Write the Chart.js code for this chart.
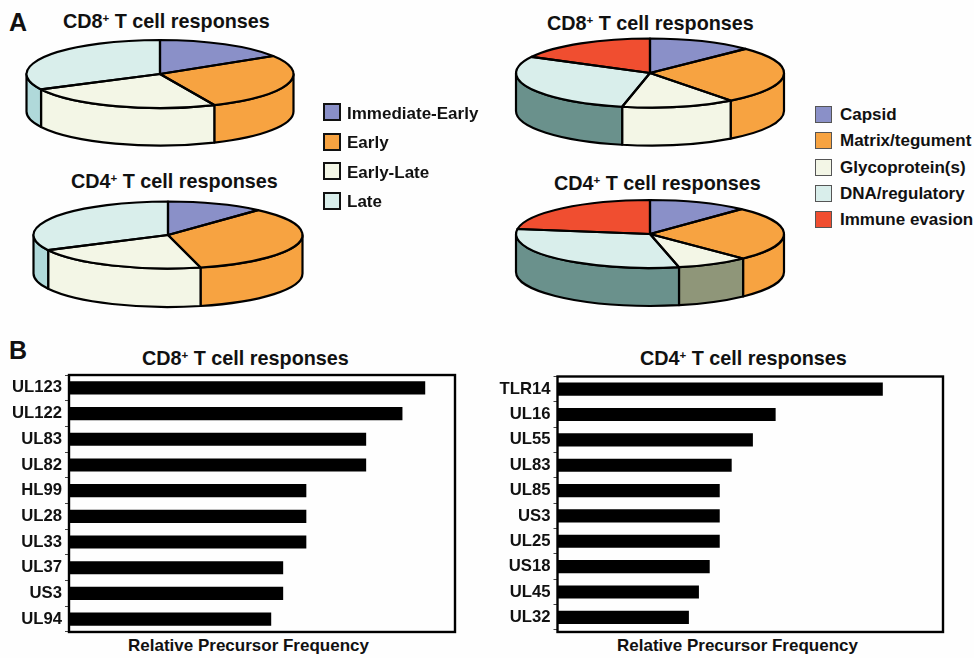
<!DOCTYPE html>
<html>
<head>
<meta charset="utf-8">
<script src="https://cdn.jsdelivr.net/npm/chart.js@4"></script>
<style>
    html, body { margin: 0; padding: 0; background: #fefefe; }
    body { position: relative; width: 974px; height: 658px; overflow: hidden; font-family: "Liberation Sans", Arial, sans-serif; font-weight: bold; color: #111; }
    canvas { position: absolute; }
    .txt { position: absolute; white-space: nowrap; line-height: 1; }
    .ttl { font-size: 19.8px; }
    .ttl sup { font-size: 11.5px; line-height: 0; vertical-align: 6px; }
    .leg { font-size: 17px; }
    .xlab { font-size: 17px; }
    .swatch { position: absolute; box-sizing: border-box; }
</style>
</head>
<body>
<div class="txt" style="left:9px;top:10px;font-size:25px">A</div>
<div class="txt" style="left:9px;top:338px;font-size:25px">B</div>

<div class="txt ttl" style="left:63px;top:12px">CD8<sup>+</sup> T cell responses</div>
<div class="txt ttl" style="left:71px;top:172px">CD4<sup>+</sup> T cell responses</div>
<div class="txt ttl" style="left:547px;top:14px">CD8<sup>+</sup> T cell responses</div>
<div class="txt ttl" style="left:554px;top:174px">CD4<sup>+</sup> T cell responses</div>
<div class="txt ttl" style="left:142px;top:349px">CD8<sup>+</sup> T cell responses</div>
<div class="txt ttl" style="left:640px;top:349px">CD4<sup>+</sup> T cell responses</div>
<div class="txt xlab" style="left:128px;top:637px">Relative Precursor Frequency</div>
<div class="txt xlab" style="left:617px;top:637px">Relative Precursor Frequency</div>

<canvas id="pieKinCd8" width="290" height="290" style="left:15px;top:-71.5px"></canvas>
<canvas id="pieKinCd4" width="290" height="290" style="left:23px;top:89.5px"></canvas>
<canvas id="pieFunCd8" width="290" height="290" style="left:505px;top:-72px"></canvas>
<canvas id="pieFunCd4" width="290" height="290" style="left:505px;top:89px"></canvas>
<canvas id="barCd8" width="480" height="283" style="left:0;top:362px"></canvas>
<canvas id="barCd4" width="484" height="281" style="left:490px;top:362px"></canvas>

<script>
// pie A, left pair
const kineticLabels = ["Immediate-Early", "Early", "Early-Late", "Late"];
const kineticCd8 = [58, 98, 87, 117];
const kineticCd4 = [42, 124, 77, 117];

// pie A, right pair
const functionLabels = ["Capsid", "Matrix/tegument", "Glycoprotein(s)", "DNA/regulatory", "Immune evasion"];
const functionCd8 = [45.5, 97.5, 49, 106, 62];
const functionCd4 = [43, 93, 31.5, 111, 81.5];

// bars B
const barCd8Labels = ["UL123", "UL122", "UL83", "UL82", "HL99", "UL28", "UL33", "UL37", "US3", "UL94"];
const barCd8Values = [92.2, 86.3, 76.9, 76.9, 61.4, 61.4, 61.4, 55.4, 55.4, 52.3];
const barCd4Labels = ["TLR14", "UL16", "UL55", "UL83", "UL85", "US3", "UL25", "US18", "UL45", "UL32"];
const barCd4Values = [84.3, 56.5, 50.6, 45.1, 42, 42, 42, 39.4, 36.6, 34];

const blue = "#8a90c8", orange = "#f7a341", cream = "#f3f6e6", pale = "#d9eeeb", red = "#f04e30";
const kineticTops = [blue, orange, cream, pale];
const functionTops = [blue, orange, cream, pale, red];

// squashes the round pie and adds the side wall, outlines keep an even width
const pie3d = {
    id: "pie3d",
    beforeDatasetsDraw(chart) {
        const o = chart.options.plugins.pie3d;
        const ctx = chart.ctx;
        ctx.save();
        ctx.lineWidth = 2.2;
        ctx.strokeStyle = "#000";
        ctx.lineJoin = "round";
        chart.getDatasetMeta(0).data.forEach((arc, i) => {
            const s = Math.max(arc.startAngle, 0);
            const e = Math.min(arc.endAngle, Math.PI);
            if (e <= s) return;
            const r = arc.outerRadius;
            ctx.beginPath();
            ctx.ellipse(arc.x, arc.y, r, r * o.squash, 0, s, e);
            ctx.ellipse(arc.x, arc.y + o.depth, r, r * o.squash, 0, e, s, true);
            ctx.closePath();
            ctx.fillStyle = o.walls[i];
            ctx.fill();
            ctx.stroke();
        });
        ctx.restore();
    },
    beforeDatasetDraw(chart) {
        const o = chart.options.plugins.pie3d;
        const arc = chart.getDatasetMeta(0).data[0];
        chart.ctx.save();
        chart.ctx.translate(arc.x, arc.y);
        chart.ctx.scale(1, o.squash);
        chart.ctx.translate(-arc.x, -arc.y);
    },
    afterDatasetDraw(chart) {
        chart.ctx.restore();
    },
    afterDatasetsDraw(chart) {
        const o = chart.options.plugins.pie3d;
        const ctx = chart.ctx;
        ctx.save();
        ctx.lineWidth = 2.2;
        ctx.strokeStyle = "#000";
        ctx.lineJoin = "round";
        chart.getDatasetMeta(0).data.forEach(arc => {
            const r = arc.outerRadius;
            ctx.beginPath();
            ctx.moveTo(arc.x, arc.y);
            ctx.ellipse(arc.x, arc.y, r, r * o.squash, 0, arc.startAngle, arc.endAngle);
            ctx.closePath();
            ctx.stroke();
        });
        ctx.restore();
    }
};

function makePie(id, labels, values, tops, walls, radius, squash, depth) {
    new Chart(document.getElementById(id), {
        type: "pie",
        data: {
            labels: labels,
            datasets: [{ data: values, backgroundColor: tops, borderWidth: 0, radius: radius, clip: false }]
        },
        plugins: [pie3d],
        options: {
            responsive: false,
            animation: false,
            events: [],
            plugins: {
                legend: { display: false },
                tooltip: { enabled: false },
                pie3d: { squash: squash, depth: depth, walls: walls }
            }
        }
    });
}

makePie("pieKinCd8", kineticLabels, kineticCd8, kineticTops, [orange, orange, cream, "#b0d9da"], 133.5, 0.2547, 37.5);
makePie("pieKinCd4", kineticLabels, kineticCd4, kineticTops, [orange, orange, cream, "#b0d9da"], 134.5, 0.249, 38.5);
makePie("pieFunCd8", functionLabels, functionCd8, functionTops, [orange, orange, cream, "#6a918c", red], 134, 0.2575, 38);
makePie("pieFunCd4", functionLabels, functionCd4, functionTops, [orange, orange, "#8f9679", "#6a918c", red], 134, 0.2537, 38);

// black box round the plot, can run a bit below the last band
const frame = {
    id: "frame",
    afterDraw(chart) {
        const a = chart.chartArea;
        const extra = chart.options.plugins.frame.extraBottom;
        const ctx = chart.ctx;
        ctx.save();
        ctx.lineWidth = 2.4;
        ctx.strokeStyle = "#000";
        ctx.strokeRect(a.left, a.top, a.right - a.left, a.bottom - a.top + extra);
        ctx.restore();
    }
};

function makeBar(id, labels, values, axisWidth, plotRight, top, extraBottom) {
    new Chart(document.getElementById(id), {
        type: "bar",
        data: {
            labels: labels,
            datasets: [{ data: values, backgroundColor: "#000", barThickness: 12.5 }]
        },
        plugins: [frame],
        options: {
            indexAxis: "y",
            responsive: false,
            animation: false,
            events: [],
            layout: { padding: { top: top, right: plotRight } },
            plugins: {
                legend: { display: false },
                tooltip: { enabled: false },
                frame: { extraBottom: extraBottom }
            },
            scales: {
                x: { display: false, min: 0, max: 100 },
                y: {
                    afterFit: scale => { scale.width = axisWidth; },
                    border: { display: false },
                    grid: { drawOnChartArea: false, offset: true, tickLength: 4, color: "#444" },
                    ticks: { color: "#111", padding: 3, autoSkip: false, font: { family: "Liberation Sans", weight: "bold", size: 16.7 } }
                }
            }
        }
    });
}

makeBar("barCd8", barCd8Labels, barCd8Values, 69, 25, 12, 0);
makeBar("barCd4", barCd4Labels, barCd4Values, 67.5, 31, 14.5, 2);

// legends
function makeLegend(labels, colors, x, y, step, size, border, textX, textDy) {
    labels.forEach((label, i) => {
        const box = document.createElement("div");
        box.className = "swatch";
        box.style.cssText = `left:${x}px;top:${y + i * step}px;width:${size}px;height:${size}px;background:${colors[i]};border:${border}`;
        document.body.appendChild(box);
        const txt = document.createElement("div");
        txt.className = "txt leg";
        txt.style.cssText = `left:${textX}px;top:${y + i * step + textDy}px`;
        txt.textContent = label;
        document.body.appendChild(txt);
    });
}

makeLegend(kineticLabels, kineticTops, 323, 103, 29.6, 18, "2px solid #111", 347, 1.5);
makeLegend(functionLabels, functionTops, 815, 106, 26.3, 17, "1px solid #555", 840, 0);
</script>
</body>
</html>
